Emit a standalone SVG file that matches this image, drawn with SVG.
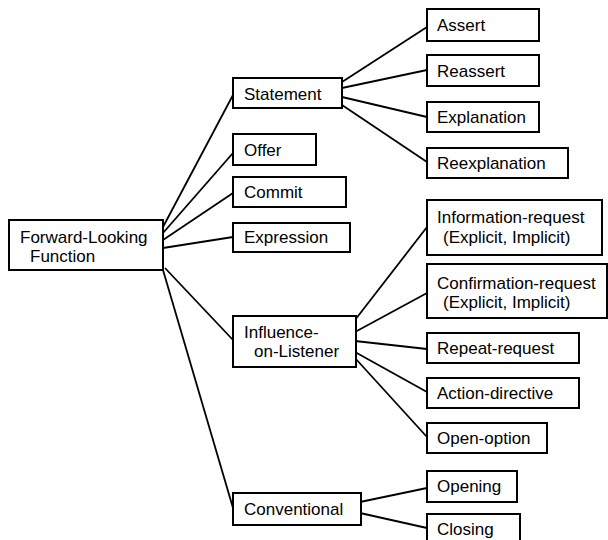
<svg xmlns="http://www.w3.org/2000/svg" width="608" height="540" viewBox="0 0 608 540">
<style>
rect{fill:#fff;stroke:#000;stroke-width:2}
text{font-family:"Liberation Sans",Arial,sans-serif;font-size:17px;fill:#000}
#connectors line{stroke:#000;stroke-width:1.8}
</style>
<rect x="0" y="0" width="608" height="540" style="stroke:none"/>
<g id="connectors">
<line x1="163" y1="227" x2="233" y2="95"/>
<line x1="163" y1="233" x2="233" y2="153"/>
<line x1="163" y1="240" x2="233" y2="193"/>
<line x1="163" y1="248" x2="233" y2="237"/>
<line x1="165" y1="268" x2="233" y2="340"/>
<line x1="163" y1="270" x2="233" y2="508"/>
<line x1="342" y1="82" x2="427" y2="27"/>
<line x1="342" y1="88" x2="427" y2="70"/>
<line x1="342" y1="97" x2="427" y2="117"/>
<line x1="342" y1="105" x2="427" y2="162"/>
<line x1="355" y1="320" x2="427" y2="227"/>
<line x1="355" y1="332" x2="427" y2="293"/>
<line x1="355" y1="341" x2="427" y2="349"/>
<line x1="355" y1="352" x2="427" y2="392"/>
<line x1="355" y1="358" x2="427" y2="437"/>
<line x1="360" y1="502" x2="427" y2="488"/>
<line x1="360" y1="513" x2="427" y2="528"/>
</g>
<g id="root"><rect x="9" y="220" width="154" height="50"/><text x="20" y="243">Forward-Looking</text><text x="30" y="262">Function</text></g>
<g id="statement"><rect x="233" y="78" width="109" height="30"/><text x="244" y="100">Statement</text></g>
<g id="offer"><rect x="233" y="134" width="83" height="31"/><text x="244" y="156">Offer</text></g>
<g id="commit"><rect x="233" y="177" width="113" height="30"/><text x="244" y="198">Commit</text></g>
<g id="expression"><rect x="233" y="223" width="117" height="29"/><text x="244" y="243">Expression</text></g>
<g id="influence"><rect x="233" y="316" width="123" height="51"/><text x="244" y="338">Influence-</text><text x="254" y="357">on-Listener</text></g>
<g id="conventional"><rect x="233" y="493" width="128" height="32"/><text x="244" y="515">Conventional</text></g>
<g id="assert"><rect x="427" y="9" width="112" height="32"/><text x="437" y="31">Assert</text></g>
<g id="reassert"><rect x="427" y="55" width="112" height="31"/><text x="437" y="77">Reassert</text></g>
<g id="explanation"><rect x="427" y="102" width="112" height="30"/><text x="437" y="123">Explanation</text></g>
<g id="reexplanation"><rect x="427" y="148" width="141" height="30"/><text x="437" y="169">Reexplanation</text></g>
<g id="information-request"><rect x="427" y="200" width="175" height="55"/><text x="437" y="223">Information-request</text><text x="443" y="243">(Explicit, Implicit)</text></g>
<g id="confirmation-request"><rect x="427" y="264" width="180" height="54"/><text x="437" y="289">Confirmation-request</text><text x="443" y="308">(Explicit, Implicit)</text></g>
<g id="repeat-request"><rect x="427" y="333" width="152" height="30"/><text x="437" y="354">Repeat-request</text></g>
<g id="action-directive"><rect x="427" y="378" width="152" height="30"/><text x="437" y="399">Action-directive</text></g>
<g id="open-option"><rect x="427" y="423" width="120" height="30"/><text x="437" y="444">Open-option</text></g>
<g id="opening"><rect x="427" y="471" width="90" height="31"/><text x="437" y="492">Opening</text></g>
<g id="closing"><rect x="427" y="514" width="93" height="32"/><text x="437" y="535">Closing</text></g>
</svg>
